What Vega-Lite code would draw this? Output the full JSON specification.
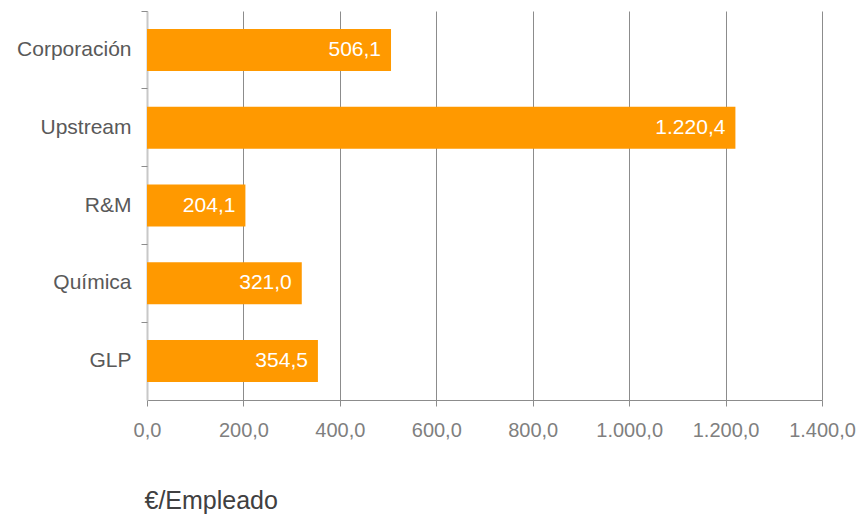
{
  "$schema": "https://vega.github.io/schema/vega-lite/v6.json",
  "autosize": "none",
  "width": 675,
  "height": 389,
  "padding": {"left": 147, "top": 11, "right": 37, "bottom": 116},
  "config": {
    "locale": {"number": {"decimal": ",", "thousands": ".", "grouping": [3], "currency": ["", " €"]}},
    "view": {"stroke": null},
    "font": "Liberation Sans"
  },
  "data": {"values": [
    {"segmento": "Corporación", "valor": 506.1},
    {"segmento": "Upstream", "valor": 1220.4},
    {"segmento": "R&M", "valor": 204.1},
    {"segmento": "Química", "valor": 321.0},
    {"segmento": "GLP", "valor": 354.5}
  ]},
  "layer": [
    {
      "mark": {"type": "bar", "color": "#FF9900", "height": {"band": 0.54}},
      "encoding": {
        "y": {"field": "segmento", "type": "nominal", "sort": null,
          "scale": {"paddingInner": 0, "paddingOuter": 0},
          "axis": {"orient": "left", "title": null, "ticks": false, "domain": true, "domainColor": "#C8C8C8", "domainWidth": 2,
            "labelFontSize": 21, "labelColor": "#595959", "labelPadding": 16, "grid": false}},
        "x": {"field": "valor", "type": "quantitative",
          "scale": {"domain": [0, 1400], "nice": false},
          "axis": {"values": [0, 200, 400, 600, 800, 1000, 1200, 1400], "format": ",.1f", "labelOverlap": false, "labelFlush": false,
            "grid": true, "gridColor": "#8C8C8C", "tickColor": "#8C8C8C", "domainColor": "#8C8C8C",
            "tickSize": 6, "labelFontSize": 20, "labelColor": "#7F7F7F", "labelPadding": 14,
            "title": "€/Empleado", "titleFontSize": 25, "titleFontWeight": "normal", "titleColor": "#404040",
            "titleAnchor": "start", "titleAlign": "left", "titleBaseline": "alphabetic", "titleX": -3, "titleY": 108}}
      }
    },
    {
      "mark": {"type": "text", "align": "right", "baseline": "middle", "dx": -10, "color": "white", "fontSize": 21},
      "encoding": {
        "y": {"field": "segmento", "type": "nominal", "sort": null,
          "axis": {"orient": "left", "offset": 0, "title": null, "labels": false, "domain": false, "ticks": true, "tickSize": 6,
            "tickColor": "#8C8C8C", "bandPosition": 0, "grid": false}},
        "x": {"field": "valor", "type": "quantitative"},
        "text": {"field": "valor", "type": "quantitative", "format": ",.1f"}
      }
    }
  ],
  "resolve": {"axis": {"y": "independent"}}
}
